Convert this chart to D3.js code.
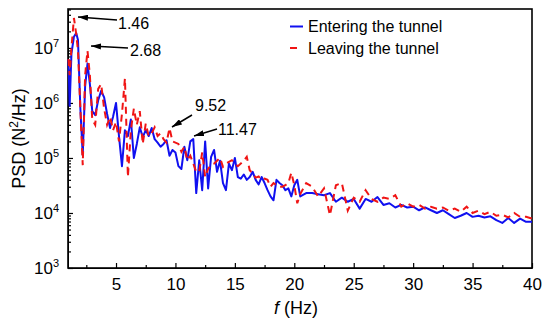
<!DOCTYPE html>
<html>
<head>
<meta charset="utf-8">
<script src="https://cdn.jsdelivr.net/npm/d3@7"></script>
<style>
  body { margin: 0; background: #fff; }
  text { font-family: "Liberation Sans", Arial, sans-serif; fill: #000; }
</style>
</head>
<body>
<div id="chart"></div>
<script>
// frequency axis (Hz), shared by both series
const freq = [
  1, 1.1, 1.25, 1.46, 1.65, 1.8, 2, 2.2, 2.4, 2.6, 2.8,
  3, 3.25, 3.5, 3.75, 4, 4.25, 4.5, 4.75, 5, 5.25, 5.5, 5.75,
  6, 6.25, 6.5, 6.75, 7, 7.25, 7.5, 7.75, 8, 8.25, 8.5, 8.75,
  9, 9.25, 9.5, 9.75, 10, 10.25, 10.5, 10.75, 11, 11.25, 11.5, 11.75,
  12, 12.25, 12.5, 12.75, 13, 13.25, 13.5, 13.75, 14, 14.25, 14.5, 14.75,
  15, 15.25, 15.5, 15.75, 16, 16.25, 16.5, 16.75, 17, 17.25, 17.5, 17.75,
  18, 18.25, 18.5, 18.75, 19, 19.25, 19.5, 19.75, 20, 20.25, 20.5,
  21, 21.5, 22, 22.5, 23, 23.5, 24, 24.5, 25, 25.5, 26, 26.5, 27, 27.5,
  28, 28.5, 29, 29.5, 30, 30.5, 31, 31.5, 32, 32.5, 33, 33.5, 34, 34.5,
  35, 35.5, 36, 36.5, 37, 37.5, 38, 38.5, 39, 39.5, 40
];

// PSD (N^2/Hz) entering the tunnel
const entering = [
  6.3e6, 8.9e5, 7.9e6, 1.6e7, 1.86e7, 1.4e7, 7.9e5, 1.12e5, 2.0e6, 5.2e6, 2.2e6,
  7.1e5, 6.0e5, 1.12e6, 1.66e6, 1.26e6, 6.3e5, 3.5e5, 5.6e5, 1.0e6, 2.5e5, 7.1e4, 3.2e5,
  2.5e5, 5.0e5, 1.0e5, 1.8e5, 3.6e5, 2.4e5, 3.2e5, 2.5e5, 3.5e5, 2.2e5, 1.9e5, 1.6e5,
  1.8e5, 2.1e5, 1.1e5, 1.4e5, 1.26e5, 7.1e4, 6.3e4, 1.6e5, 9.1e4, 2.0e5, 2.2e5, 2.3e4,
  9.1e4, 2.6e4, 2.0e5, 2.8e4, 1.05e5, 1.4e5, 5.6e4, 8.9e4, 3.5e4, 2.6e4, 7.9e4, 6.0e4,
  1.0e5, 4.5e4, 4.2e4, 5.0e4, 4.0e4, 4.5e4, 5.6e4, 4.0e4, 3.3e4, 4.5e4, 3.5e4, 2.6e4,
  2.0e4, 1.7e4, 4.0e4, 3.5e4, 3.2e4, 2.6e4, 2.8e4, 2.0e4, 3.2e4, 4.0e4, 2.0e4,
  2.3e4, 2.3e4, 2.2e4, 2.1e4, 2.3e4, 1.6e4, 1.9e4, 1.6e4, 1.8e4, 1.2e4, 1.8e4, 1.6e4, 1.95e4, 1.4e4,
  1.5e4, 1.26e4, 1.4e4, 1.26e4, 1.3e4, 1.12e4, 1.26e4, 1.12e4, 1.0e4, 1.12e4, 9.5e3, 8.1e3, 8.9e3, 1.0e4,
  8.5e3, 8.9e3, 8.3e3, 8.7e3, 7.4e3, 6.6e3, 8.1e3, 6.6e3, 7.9e3, 6.9e3, 6.9e3
];

// PSD (N^2/Hz) leaving the tunnel
const leaving = [
  6.3e6, 3.2e6, 1.0e7, 3.5e7, 1.8e7, 8.9e6, 7.9e5, 7.4e4, 3.2e6, 8.9e6, 3.2e6,
  5.0e5, 4.0e5, 1.8e6, 2.2e6, 7.9e5, 4.0e5, 5.6e5, 3.2e5, 4.5e5, 2.0e5, 6.3e5, 2.8e6,
  4.5e4, 3.2e5, 7.9e5, 4.0e5, 7.1e5, 1.8e5, 4.2e5, 2.5e5, 2.8e5, 3.6e5, 2.5e5, 2.8e5,
  2.2e5, 1.9e5, 3.5e5, 2.0e5, 1.9e5, 1.8e5, 1.3e5, 1.6e5, 9.1e4, 1.1e5, 7.9e4, 5.6e4,
  5.6e4, 1.26e5, 4.5e4, 6.3e4, 7.6e4, 7.9e4, 8.9e4, 1.0e5, 6.9e4, 7.9e4, 8.5e4, 9.1e4,
  7.9e4, 7.1e4, 7.9e4, 8.9e4, 1.05e5, 6.0e4, 5.2e4, 4.4e4, 4.6e4, 4.0e4, 4.2e4, 4.0e4,
  3.0e4, 3.5e4, 3.2e4, 3.0e4, 3.0e4, 3.2e4, 3.5e4, 5.4e4, 3.2e4, 1.5e4, 2.2e4,
  3.5e4, 3.0e4, 2.0e4, 2.8e4, 9.1e3, 3.2e4, 3.5e4, 1.1e4, 1.9e4, 1.6e4, 2.6e4, 1.8e4, 1.6e4, 1.9e4,
  1.8e4, 2.1e4, 1.3e4, 1.5e4, 1.3e4, 1.4e4, 1.2e4, 1.3e4, 1.2e4, 1.26e4, 1.1e4, 1.2e4, 1.05e4, 1.3e4,
  1.0e4, 1.1e4, 9.5e3, 1.05e4, 8.9e3, 9.3e3, 8.3e3, 1.0e4, 8.5e3, 8.5e3, 7.9e3
];

const seriesNames = ["Entering the tunnel", "Leaving the tunnel"];
const xTicks = [5, 10, 15, 20, 25, 30, 35, 40];
const xMinorTicks = [2.5, 7.5, 12.5, 17.5, 22.5, 27.5, 32.5, 37.5];
const yExponents = [3, 4, 5, 6, 7];
const peakLabels = ["1.46", "2.68", "9.52", "11.47"];

const margin = { top: 9, right: 11, bottom: 53, left: 68 },
  width = 543 - margin.left - margin.right,
  height = 321 - margin.top - margin.bottom;

const svg = d3
  .select("#chart")
  .append("svg")
  .attr("width", 543)
  .attr("height", 321);

svg.append("defs")
  .append("marker")
  .attr("id", "arrow")
  .attr("viewBox", "0 0 10 6")
  .attr("refX", 10)
  .attr("refY", 3)
  .attr("markerWidth", 10)
  .attr("markerHeight", 6)
  .attr("markerUnits", "userSpaceOnUse")
  .attr("orient", "auto")
  .append("path")
  .attr("d", "M0,0 L10,3 L0,6 Z")
  .attr("fill", "#000");

const g = svg.append("g")
  .attr("transform", "translate(" + margin.left + "," + margin.top + ")");

const x = d3.scaleLinear().domain([0.96, 40]).range([0, width]);
const y = d3.scaleLog().domain([1e3, 5.1e7]).range([height, 0]);

// minor ticks
const yMinor = [];
yExponents.forEach((e) => {
  for (let m = 2; m <= 9; m++) {
    const v = m * Math.pow(10, e);
    if (v < y.domain()[1]) yMinor.push(v);
  }
});

g.append("g")
  .attr("transform", "translate(0," + height + ")")
  .call(d3.axisBottom(x).tickValues(xMinorTicks).tickSizeInner(-3).tickSizeOuter(0).tickFormat(""))
  .call((s) => s.select(".domain").remove());

g.append("g")
  .call(d3.axisLeft(y).tickValues(yMinor).tickSizeInner(-3).tickSizeOuter(0).tickFormat(""))
  .call((s) => s.select(".domain").remove());

// x axis
const xAxis = g.append("g")
  .attr("transform", "translate(0," + height + ")")
  .call(d3.axisBottom(x).tickValues(xTicks).tickSizeInner(-5).tickSizeOuter(0).tickPadding(10));
xAxis.selectAll("text")
  .style("font-size", "17px")
  .style("font-family", "'Liberation Sans', Arial, sans-serif");

// y axis with superscript labels
const yAxis = g.append("g")
  .call(d3.axisLeft(y).tickValues(yExponents.map((e) => Math.pow(10, e)))
    .tickSizeInner(-5).tickSizeOuter(0).tickFormat(""));

yExponents.forEach((e) => {
  const t = g.append("text")
    .attr("x", -9)
    .attr("y", y(Math.pow(10, e)) + 6)
    .attr("text-anchor", "end")
    .style("font-size", "17px");
  t.append("tspan").text("10");
  t.append("tspan").attr("dy", -7).style("font-size", "11px").text(e);
});

g.selectAll(".tick line").attr("stroke", "#000").attr("stroke-width", 1.2);

// frame
g.append("rect")
  .attr("width", width)
  .attr("height", height)
  .attr("fill", "none")
  .attr("stroke", "#000")
  .attr("stroke-width", 1.6);

// lines
const line = d3.line()
  .x((d, i) => x(freq[i]))
  .y((d) => y(d));

g.append("path")
  .datum(entering)
  .attr("d", line)
  .attr("fill", "none")
  .attr("stroke", "#1010f0")
  .attr("stroke-width", 2)
  .attr("stroke-linejoin", "round");

g.append("path")
  .datum(leaving)
  .attr("d", line)
  .attr("fill", "none")
  .attr("stroke", "#f01414")
  .attr("stroke-width", 2)
  .attr("stroke-dasharray", "7,5");

// legend
const legend = svg.append("g");
legend.append("line")
  .attr("x1", 290).attr("x2", 303).attr("y1", 26.5).attr("y2", 26.5)
  .attr("stroke", "#1010f0").attr("stroke-width", 2);
legend.append("line")
  .attr("x1", 290).attr("x2", 300).attr("y1", 48).attr("y2", 48)
  .attr("stroke", "#f01414").attr("stroke-width", 2).attr("stroke-dasharray", "7,5");
legend.selectAll("text.leg")
  .data(seriesNames)
  .enter()
  .append("text")
  .attr("class", "leg")
  .attr("x", 308)
  .attr("y", (d, i) => 32 + i * 21.5)
  .style("font-size", "16px")
  .text((d) => d);

// peak annotations (tail -> tip, label position)
const arrows = [
  { tail: [117, 20], tip: [78, 17], tx: 118, ty: 29 },
  { tail: [128, 48], tip: [91, 46], tx: 130, ty: 56 },
  { tail: [192, 115], tip: [172, 127], tx: 195, ty: 111 },
  { tail: [217, 129], tip: [194, 136], tx: 218, ty: 135 }
];
arrows.forEach((a, i) => {
  svg.append("line")
    .attr("x1", a.tail[0]).attr("y1", a.tail[1])
    .attr("x2", a.tip[0]).attr("y2", a.tip[1])
    .attr("stroke", "#000").attr("stroke-width", 1.5)
    .attr("marker-end", "url(#arrow)");
  svg.append("text")
    .attr("x", a.tx).attr("y", a.ty)
    .style("font-size", "16px")
    .text(peakLabels[i]);
});

// axis titles
const xt = svg.append("text")
  .attr("x", margin.left + width / 2 - 4)
  .attr("y", 314)
  .attr("text-anchor", "middle")
  .style("font-size", "18px");
xt.append("tspan").style("font-style", "italic").text("f");
xt.append("tspan").text(" (Hz)");

const yt = svg.append("text")
  .attr("transform", "translate(25," + (margin.top + height / 2) + ") rotate(-90)")
  .attr("text-anchor", "middle")
  .style("font-size", "18px");
yt.append("tspan").text("PSD (N");
yt.append("tspan").attr("dy", -7).style("font-size", "12px").text("2");
yt.append("tspan").attr("dy", 7).text("/Hz)");
</script>
</body>
</html>
